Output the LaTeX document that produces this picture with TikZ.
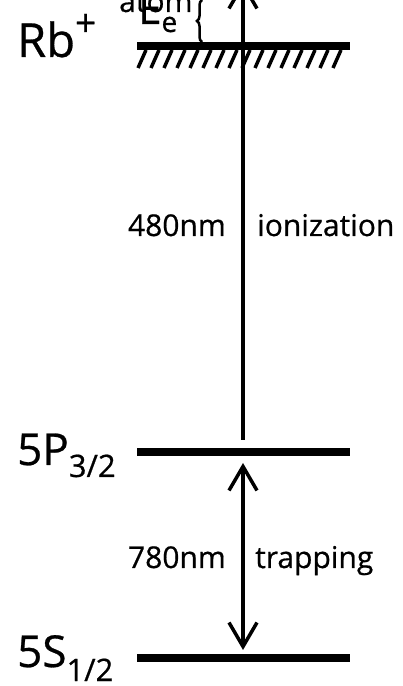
\documentclass[tikz,border=0pt]{standalone}
\usepackage{fontspec}
\setmainfont[FakeBold=0.6]{Open Sans}
\usetikzlibrary{arrows.meta,decorations.pathreplacing}
\begin{document}
\begin{tikzpicture}[x=1pt,y=1pt,
  level/.style={line width=7.5pt},
  beam/.style={line width=3.5pt},
  barb/.style={-{Straight Barb[length=24pt,width=28pt]}},
  barbs/.style={{Straight Barb[length=24pt,width=28pt]}-{Straight Barb[length=24pt,width=28pt]}},
  lbl/.style={font=\fontsize{30}{30}\selectfont, inner sep=0pt},
  big/.style={font=\fontsize{44}{44}\selectfont, inner sep=0pt}]
\useasboundingbox (0,0) rectangle (402,686);
% levels
\coordinate (topL) at (137,640); \coordinate (topR) at (350,640);
\coordinate (pL) at (137,234); \coordinate (pR) at (350,234);
\coordinate (sL) at (137,28); \coordinate (sR) at (350,28);
\draw[line width=8.5pt] (topL) -- (topR);
\foreach \x in {143,156,...,345} \draw[line width=3.5pt] (\x-5,618) -- (\x+3,636);
\draw[level] (pL) -- (pR);
\draw[level] (sL) -- (sR);
% arrows
\coordinate (ionStart) at (243,246);
\coordinate (ionTop) at (243,705);
\draw[beam,barb] (ionStart) -- (ionTop);
\coordinate (trapTop) at (243,223);
\coordinate (trapBot) at (243,36);
\draw[beam,barbs] (trapTop) -- (trapBot);
% brace
\draw[line width=2.5pt, decorate, decoration={brace,amplitude=5pt}] (202,644) -- (202,686);
% labels
\node[lbl,anchor=base east] (l480) at (226,450) {480nm};
\node[lbl,anchor=base west] (lion) at (257,450) {ionization};
\node[lbl,anchor=base east] (l780) at (226,118) {780nm};
\node[lbl,anchor=base west] (ltrap) at (255,118) {trapping};
\node[font=\fontsize{47}{47}\selectfont, inner sep=0pt, anchor=base west] (rb) at (17,629) {Rb\raisebox{21pt}{\fontsize{37}{37}\selectfont +}};
\node[big,anchor=base west] (p) at (17,221) {5P\raisebox{-12pt}{\fontsize{31}{31}\selectfont 3/2}};
\node[big,anchor=base west] (s) at (17,19) {5S\raisebox{-14pt}{\fontsize{31}{31}\selectfont 1/2}};
\node[font=\fontsize{42}{42}\selectfont, inner sep=0pt, anchor=base west] (ee) at (138,662) {E\raisebox{-8pt}{\fontsize{28}{28}\selectfont e}};
\node[lbl,anchor=base west] (atom) at (119,674) {atom};
\end{tikzpicture}
\end{document}
